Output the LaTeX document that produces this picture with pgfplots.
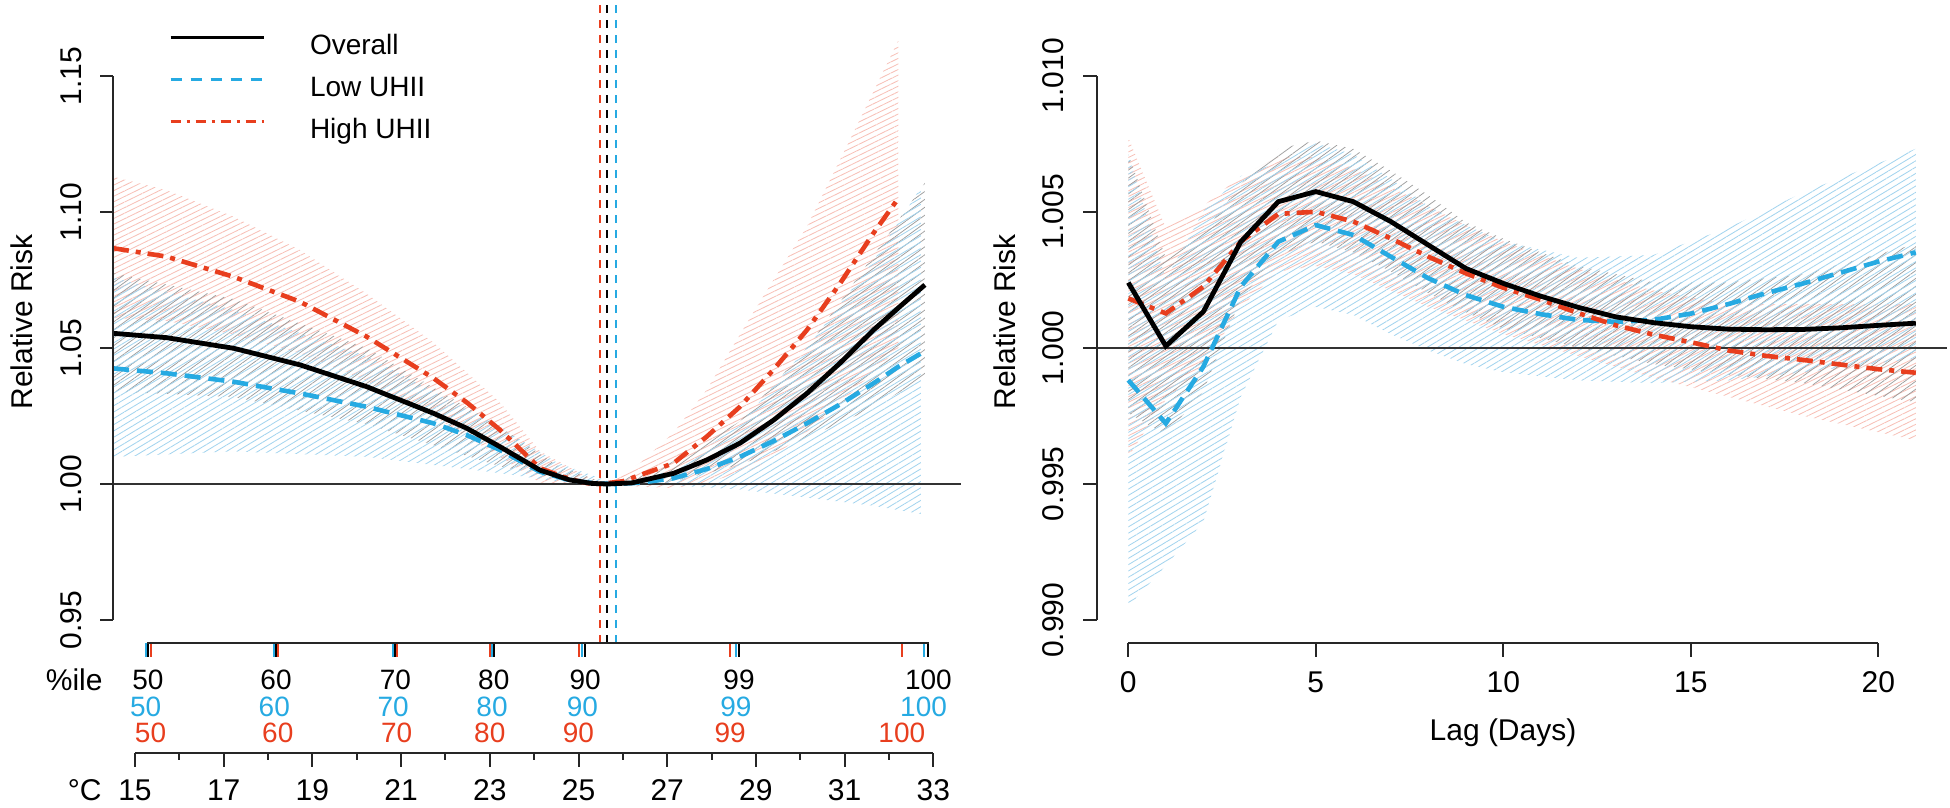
\documentclass[border=0pt]{standalone}
\usepackage{fontspec}
\setmainfont{Liberation Sans}
\usepackage{pgfplots}
\pgfplotsset{compat=1.18}
\usepackage{pgfplotstable}
\usetikzlibrary{patterns.meta}

\definecolor{cBlue}{RGB}{38,170,226}
\definecolor{cRed}{RGB}{232,62,30}
\definecolor{hPink}{RGB}{247,192,183}
\definecolor{hGray}{RGB}{158,158,158}
\definecolor{hBlue}{RGB}{163,212,238}

% ---------- left panel data: temperature (deg C) vs RR ----------
\pgfplotstableread{
u v
14.504 1.0554
15.71 1.0538
17.22 1.0499
18.72 1.0438
20.22 1.0358
21.73 1.0260
22.48 1.0205
23.23 1.0137
24.13 1.0051
24.80 1.0015
25.30 1.0002
25.65 1.0000
26.20 1.0004
27.14 1.0039
27.89 1.0088
28.64 1.0150
29.40 1.0235
30.15 1.0333
30.90 1.0445
31.65 1.0566
32.30 1.0660
32.81 1.0732
}\LOverall
\pgfplotstableread{
u v
14.504 1.0867
15.71 1.0836
17.22 1.0762
18.72 1.0670
20.22 1.0542
21.73 1.0389
22.48 1.0300
23.23 1.0199
24.13 1.0058
24.80 1.0018
25.20 1.0003
25.49 1.0000
26.00 1.0010
26.39 1.0033
27.14 1.0076
27.89 1.0174
28.64 1.0284
29.39 1.0419
30.15 1.0566
30.90 1.0738
31.65 1.0922
32.21 1.1050
}\LHigh
\pgfplotstableread{
u v
14.504 1.0425
15.71 1.0407
17.22 1.0376
18.72 1.0333
20.22 1.0284
21.73 1.0223
22.48 1.0180
23.23 1.0125
24.13 1.0045
24.80 1.0014
25.40 1.0002
25.84 1.0000
26.40 1.0005
27.14 1.0021
27.89 1.0055
28.64 1.0100
29.40 1.0158
30.15 1.0223
30.90 1.0293
31.65 1.0370
32.20 1.0430
32.72 1.0480
}\LLow
% confidence bands: upper limit left to right, then lower limit right to left
\pgfplotstableread{
u v
14.504 1.113
15.71 1.108
17.22 1.0983
18.72 1.086
20.22 1.070
21.73 1.052
23.23 1.030
24.13 1.012
25.49 1.0
26.39 1.0077
27.14 1.0188
27.89 1.0346
29.02 1.0652
30.15 1.0946
31.12 1.1265
32.21 1.163
32.21 1.050
31.12 1.033
30.15 1.019
29.02 1.006
27.89 1.0005
27.14 0.9985
26.39 0.999
25.49 1.0
24.13 1.0005
23.23 1.010
21.73 1.025
20.22 1.038
18.72 1.048
17.22 1.055
15.71 1.060
14.504 1.061
}\LBandHigh
\pgfplotstableread{
u v
14.504 1.0776
17.22 1.068
20.22 1.050
23.23 1.021
24.5 1.007
25.65 1.0
27.0 1.007
28.64 1.023
30.15 1.050
31.65 1.084
32.81 1.1107
32.81 1.0394
31.65 1.028
30.15 1.017
28.64 1.007
27.0 1.0005
25.65 1.0
24.5 1.002
23.23 1.0065
20.22 1.022
17.22 1.032
14.504 1.034
}\LBandOverall
\pgfplotstableread{
u v
14.504 1.076
17.22 1.064
20.22 1.047
23.23 1.021
24.5 1.008
25.84 1.0
27.14 1.005
28.64 1.022
30.15 1.050
31.65 1.082
32.72 1.109
32.72 0.989
31.65 0.992
30.15 0.995
28.64 0.998
27.14 0.9995
25.84 1.0
24.5 1.001
23.23 1.004
20.22 1.010
17.22 1.012
14.504 1.010
}\LBandLow

% ---------- right panel data: lag (days) vs RR ----------
\pgfplotstableread{
L v
0 1.00239
1 1.00006
2 1.00132
3 1.00389
4 1.00536
5 1.00573
6 1.00536
7 1.00463
8 1.00377
9 1.00291
10 1.00236
11 1.00189
12 1.00148
13 1.00113
14 1.00092
15 1.00077
16 1.00068
17 1.00066
18 1.00067
19 1.00073
20 1.00082
21 1.00090
}\ROverall
\pgfplotstableread{
L v
0 1.00181
1 1.00126
2 1.00224
3 1.00389
4 1.00491
5 1.00499
6 1.00463
7 1.00401
8 1.00334
9 1.00273
10 1.00220
11 1.00176
12 1.00127
13 1.00082
14 1.00048
15 1.00020
16 0.99990
17 0.99970
18 0.99955
19 0.99938
20 0.99921
21 0.99908
}\RHigh
\pgfplotstableread{
L v
0 0.99881
1 0.99722
2 0.99930
3 1.00224
4 1.00389
5 1.00450
6 1.00414
7 1.00334
8 1.00255
9 1.00193
10 1.00150
11 1.00123
12 1.00102
13 1.00095
14 1.00102
15 1.00125
16 1.00160
17 1.00200
18 1.00236
19 1.00276
20 1.00316
21 1.00350
}\RLow
\pgfplotstableread{
L v
0 1.0077
1 1.0044
2 1.0052
3 1.0063
4 1.0070
5 1.0070
6 1.0066
7 1.0059
8 1.0052
9 1.0045
10 1.0039
12 1.0029
14 1.0021
16 1.0016
18 1.0016
21 1.0016
21 0.9966
18 0.9975
16 0.9982
14 0.9989
12 0.9997
10 1.0005
9 1.0010
8 1.0015
7 1.0021
6 1.0027
5 1.0030
4 1.0028
3 1.0015
2 0.9993
1 0.9981
0 0.9960
}\RBandHigh
\pgfplotstableread{
L v
0 1.0071
1 1.0033
2 1.0042
3 1.0060
4 1.0073
5 1.0076
6 1.0073
7 1.0065
8 1.0056
9 1.0046
10 1.0040
12 1.0030
14 1.0024
16 1.0024
18 1.0027
21 1.0038
21 0.9980
18 0.9987
16 0.9990
14 0.9994
12 1.0000
10 1.0007
9 1.0013
8 1.0020
7 1.0028
6 1.0035
5 1.0039
4 1.0034
3 1.0018
2 0.9984
1 0.9968
0 0.9976
}\RBandOverall
\pgfplotstableread{
L v
0 1.0071
1 1.0025
2 1.0050
3 1.0063
4 1.0068
5 1.0075
6 1.0071
7 1.0062
8 1.0052
9 1.0045
10 1.0039
12 1.0033
14 1.0034
16 1.0044
18 1.0057
21 1.0073
21 0.9996
18 0.9991
16 0.9988
14 0.9987
12 0.9988
10 0.9991
9 0.9994
8 0.9999
7 1.0005
6 1.0012
5 1.0015
4 1.0010
3 0.9982
2 0.9936
1 0.9920
0 0.9905
}\RBandLow

\pgfplotsset{
  base/.style={scale only axis, anchor=south west,
    /pgf/number format/assume math mode=true,
    tick align=outside,
    ticklabel style={font=\fontsize{15}{18}\selectfont}},
  xover/.style={base, height=1pt, ymin=0, ymax=1, hide y axis, clip=false,
    axis x line*=bottom, x axis line style={line width=1pt, black!85},
    xtick style={black!85, line width=1pt}},
  yover/.style={base, width=1pt, xmin=0, xmax=1, hide x axis, clip=false,
    axis y line*=left, y axis line style={line width=1pt, black!85},
    ytick style={black!85, line width=1pt}},
  pctl/.style={xover, at={(56.5pt,82.5pt)}, width=424pt,
    xmin=14.504, xmax=33.6246, x axis line style={draw=none},
    major tick length=7pt,
    xticklabel style={font=\fontsize{14}{16}\selectfont, anchor=base, inner sep=0pt}},
  blueL/.style={cBlue, line width=2.3pt, dash pattern=on 8pt off 4pt},
  redL/.style={cRed, line width=2.3pt, dash pattern=on 8pt off 3.5pt on 2.5pt off 3.5pt},
  blackL/.style={black, line width=2.4pt},
  hatchR/.style={draw=none, pattern={Lines[angle=26,distance=2.5pt,line width=0.42pt]}, pattern color=hPink},
  hatchG/.style={draw=none, pattern={Lines[angle=36,distance=3.2pt,line width=0.38pt]}, pattern color=hGray},
  hatchB/.style={draw=none, pattern={Lines[angle=31,distance=2.7pt,line width=0.42pt]}, pattern color=hBlue},
}

\begin{document}
\begin{tikzpicture}[x=1pt,y=1pt]
\path[use as bounding box] (0,0) rectangle (975,404);

% ================= LEFT PANEL =================
\begin{axis}[base, hide axis, at={(56.5pt,82.5pt)}, width=424pt, height=319pt,
  xmin=14.504, xmax=33.6246, ymin=0.941544, ymax=1.176103,
  legend image code/.code={\draw[#1] (0pt,5pt) -- (46.5pt,5pt);},
  legend cell align=left,
  legend style={at={(0.06604,0.9550)}, anchor=north west, draw=none, fill=none,
    inner sep=0pt, outer sep=0pt, row sep=7.5pt, column sep=22.5pt,
    font=\fontsize{14}{16}\selectfont,
    nodes={inner sep=0pt, text height=10.5pt, text depth=3pt}}]
  \addplot[hatchR, forget plot] table[x=u, y=v] {\LBandHigh};
  \addplot[hatchG, forget plot] table[x=u, y=v] {\LBandOverall};
  \addplot[hatchB, forget plot] table[x=u, y=v] {\LBandLow};
  \addplot[black!80, line width=1pt, forget plot] coordinates {(14.504,1) (33.6246,1)};
  \addplot[cRed, line width=1pt, dash pattern=on 4pt off 3.5pt, forget plot] coordinates {(25.49,0.941544) (25.49,1.176103)};
  \addplot[black, line width=1pt, dash pattern=on 4pt off 3.5pt, forget plot] coordinates {(25.65,0.941544) (25.65,1.176103)};
  \addplot[cBlue, line width=1pt, dash pattern=on 4pt off 3.5pt, forget plot] coordinates {(25.84,0.941544) (25.84,1.176103)};
  \addplot[blueL, forget plot] table[x=u, y=v] {\LLow};
  \addplot[redL, forget plot] table[x=u, y=v] {\LHigh};
  \addplot[blackL, forget plot] table[x=u, y=v] {\LOverall};
  \addlegendimage{black, line width=1.5pt}
  \addlegendentry{Overall}
  \addlegendimage{cBlue, line width=1.5pt, dash pattern=on 5.5pt off 4.5pt}
  \addlegendentry{Low UHII}
  \addlegendimage{cRed, line width=1.5pt, dash pattern=on 5pt off 3pt on 1.5pt off 3pt}
  \addlegendentry{High UHII}
\end{axis}

% left y axis
\begin{axis}[yover, at={(56.5pt,94pt)}, height=272pt, ymin=0.95, ymax=1.15,
  ytick={0.95,1.00,1.05,1.10,1.15}, major tick length=6.5pt,
  y tick label style={/pgf/number format/fixed, /pgf/number format/fixed zerofill,
    /pgf/number format/precision=2},
  yticklabel style={xshift=-9.5pt, rotate=90, anchor=base}]
  \addplot[draw=none] coordinates {(0,1)};
\end{axis}

% percentile axes
\begin{axis}[pctl, xtick={15.24,18.14,20.82,23.05,25.09,28.55,32.78},
  xticklabels={50,60,70,80,90,99,100}, xtick style={cBlue, line width=1pt},
  xticklabel style={text=cBlue, yshift=-30pt}]
  \addplot[draw=none] coordinates {(20,0.5)};
\end{axis}
\begin{axis}[pctl, xtick={15.35,18.22,20.90,23.00,25.00,28.42,32.29},
  xticklabels={50,60,70,80,90,99,100}, xtick style={cRed, line width=1pt},
  xticklabel style={text=cRed, yshift=-43pt}]
  \addplot[draw=none] coordinates {(20,0.5)};
\end{axis}
\begin{axis}[pctl, xtick={15.29,18.18,20.87,23.09,25.15,28.62,32.89},
  xticklabels={50,60,70,80,90,99,100}, xtick style={black, line width=1pt},
  xticklabel style={text=black, yshift=-16.5pt}]
  \addplot[black!85, line width=1pt] coordinates {(15.2706,0) (32.903,0)};
\end{axis}

% temperature axis
\begin{axis}[xover, at={(67.5pt,27.5pt)}, width=399.15pt, xmin=15, xmax=33,
  xtick={15,17,...,33}, minor xtick={16,18,...,32},
  major tick length=7pt, minor tick length=3.5pt,
  xticklabel style={anchor=base, yshift=-16.9pt}]
  \addplot[draw=none] coordinates {(20,0.5)};
\end{axis}

\node[anchor=east, font=\fontsize{15}{18}\selectfont, inner sep=0pt] at (51.5,64) {\%ile};
\node[anchor=east, font=\fontsize{15}{18}\selectfont, inner sep=0pt] at (51,9) {°C};
\node[rotate=90, font=\fontsize{15}{18}\selectfont] at (11,243) {Relative Risk};

% ================= RIGHT PANEL =================
\begin{axis}[base, hide axis, at={(548.35pt,82.5pt)}, width=425.15pt, height=319pt,
  xmin=-0.8427, xmax=21.832, ymin=0.989159, ymax=1.012581]
  \addplot[hatchR] table[x=L, y=v] {\RBandHigh};
  \addplot[hatchG] table[x=L, y=v] {\RBandOverall};
  \addplot[hatchB] table[x=L, y=v] {\RBandLow};
  \addplot[black!80, line width=1pt] coordinates {(-0.8427,1) (21.832,1)};
  \addplot[blueL] table[x=L, y=v] {\RLow};
  \addplot[redL] table[x=L, y=v] {\RHigh};
  \addplot[blackL] table[x=L, y=v] {\ROverall};
\end{axis}

\begin{axis}[yover, at={(548.35pt,93.85pt)}, height=272.3pt, ymin=0.99, ymax=1.01,
  ytick={0.990,0.995,1.000,1.005,1.010}, major tick length=6.7pt,
  y tick label style={/pgf/number format/fixed, /pgf/number format/fixed zerofill,
    /pgf/number format/precision=3},
  yticklabel style={xshift=-9.8pt, rotate=90, anchor=base}]
  \addplot[draw=none] coordinates {(0,1)};
\end{axis}

\begin{axis}[xover, at={(564.15pt,82.35pt)}, width=375pt, xmin=0, xmax=20,
  xtick={0,5,...,20}, major tick length=6.7pt,
  xticklabel style={anchor=base, yshift=-17.9pt}]
  \addplot[draw=none] coordinates {(10,0.5)};
\end{axis}

\node[font=\fontsize{15}{18}\selectfont] at (751.5,37.5) {Lag (Days)};
\node[rotate=90, font=\fontsize{15}{18}\selectfont] at (502.5,243) {Relative Risk};
\end{tikzpicture}
\end{document}
